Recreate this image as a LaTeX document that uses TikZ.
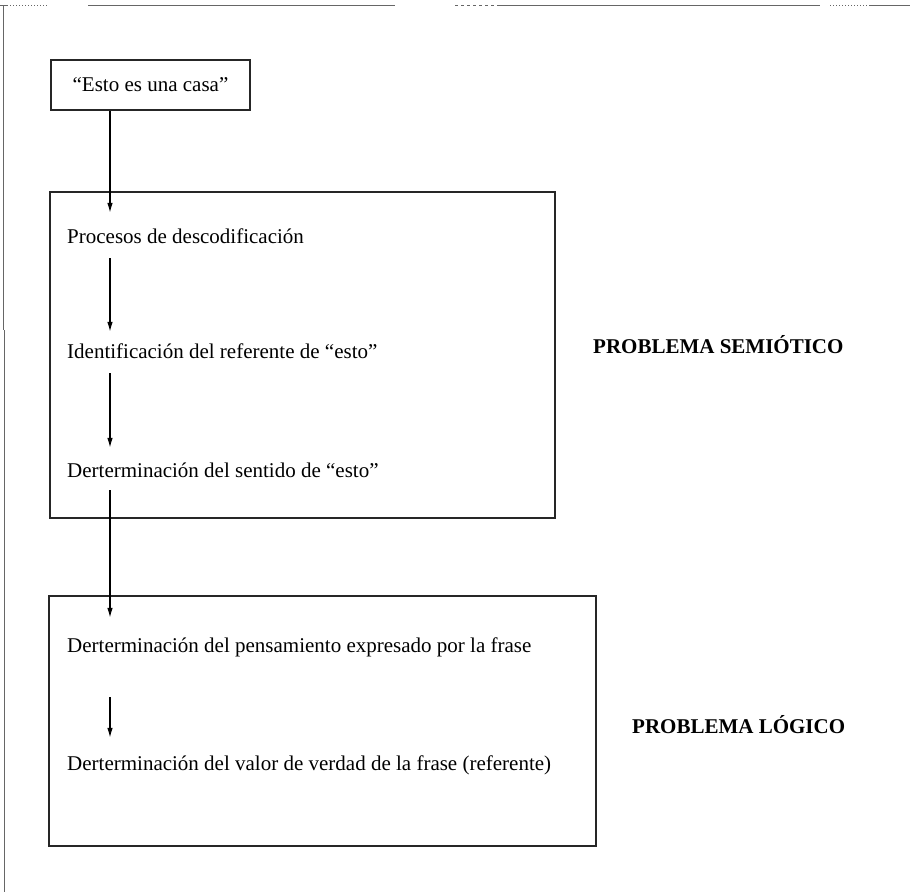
\documentclass[tikz,border=0pt]{standalone}
\usepackage{fontspec}
\setmainfont{Liberation Serif}
\usetikzlibrary{arrows.meta}
\begin{document}
\begin{tikzpicture}[x=1pt,y=-1pt,
  every node/.style={font=\fontsize{21}{24}\selectfont},
  frameline/.style={draw=black!60,line width=1pt},
  boxline/.style={draw=black!85,line width=1.2pt},
  txt/.style={anchor=west,inner xsep=0pt,inner ysep=0pt,text height=14pt,text depth=4pt},
  lbl/.style={anchor=west,inner sep=0pt,font=\fontsize{21}{24}\selectfont\bfseries},
  arr/.style={draw=black,line width=1.2pt,-{Latex[length=10pt,width=5.5pt]}}]
\useasboundingbox (0,0) rectangle (910,892);
% page frame (scan)
\draw[frameline] (0,5) -- (8,5);
\draw[frameline,dotted] (10,5) -- (48,5);
\draw[frameline] (88,5) -- (395,5);
\draw[frameline,dashed] (455,5) -- (500,5);
\draw[frameline] (500,5) -- (820,5);
\draw[frameline,dotted] (830,5) -- (870,5);
\draw[frameline] (870,5) -- (910,5);
\draw[frameline] (3,5) -- (3,330);
\draw[frameline] (4,330) -- (4,892);
% boxes
\node[boxline,minimum width=199pt,minimum height=50pt,inner sep=0pt] (b1) at (150.5,85) {“Esto es una casa”};
\node[boxline,minimum width=505pt,minimum height=326pt,inner sep=0pt] (b2) at (302.5,355) {};
\node[boxline,minimum width=547pt,minimum height=250pt,inner sep=0pt] (b3) at (322.5,721) {};
% texts
\coordinate (ax) at (110,0);
\node[txt] (t1) at (67,238) {Procesos de descodificación};
\node[txt] (t2) at (67,353) {Identificación del referente de “esto”};
\node[txt] (t3) at (67,472) {Derterminación del sentido de “esto”};
\node[txt] (t4) at (67,647) {Derterminación del pensamiento expresado por la frase};
\node[txt] (t5) at (67,765) {Derterminación del valor de verdad de la frase (referente)};
\node[lbl] (p1) at (593,345) {PROBLEMA SEMIÓTICO};
\node[lbl] (p2) at (632,725) {PROBLEMA LÓGICO};
% arrows
\draw[arr,shorten >=16pt] (b1.south -| ax) -- (t1.north -| ax);
\draw[arr,shorten <=11pt,shorten >=12pt] (t1.south -| ax) -- (t2.north -| ax);
\draw[arr,shorten <=11pt,shorten >=15pt] (t2.south -| ax) -- (t3.north -| ax);
\draw[arr,shorten <=9pt,shorten >=20pt] (t3.south -| ax) -- (t4.north -| ax);
\draw[arr,shorten <=41pt,shorten >=18pt] (t4.south -| ax) -- (t5.north -| ax);
\end{tikzpicture}
\end{document}
